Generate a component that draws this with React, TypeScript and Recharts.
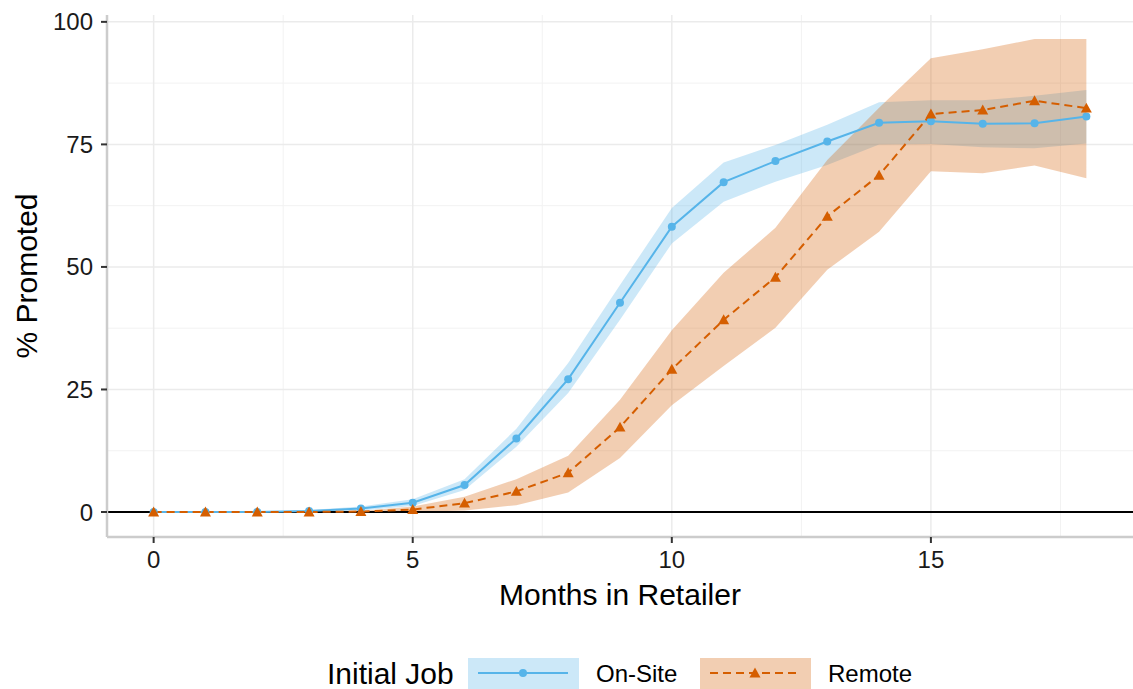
import {
  ComposedChart,
  Area,
  Line,
  XAxis,
  YAxis,
  CartesianGrid,
  ReferenceLine,
} from "recharts";

const months = [0, 1, 2, 3, 4, 5, 6, 7, 8, 9, 10, 11, 12, 13, 14, 15, 16, 17, 18];

const onSite = [0, 0, 0, 0.2, 0.7, 1.9, 5.5, 15.0, 27.1, 42.7, 58.2, 67.3, 71.6, 75.6, 79.4, 79.7, 79.2, 79.3, 80.7];
const onSiteLo = [0, 0, 0, 0, 0.3, 1.2, 4.5, 13.3, 24.3, 39.2, 54.8, 63.3, 67.4, 70.8, 75.0, 75.1, 74.4, 74.2, 75.2];
const onSiteHi = [0, 0, 0, 0.4, 1.1, 2.6, 6.7, 17.0, 30.4, 46.3, 62.0, 71.3, 74.9, 79.0, 83.6, 84.0, 84.0, 84.9, 86.1];

const remote = [0, 0, 0, 0, 0.1, 0.5, 1.8, 4.2, 8.0, 17.3, 29.1, 39.2, 47.9, 60.3, 68.7, 81.2, 82.0, 83.9, 82.4];
const remoteLo = [0, 0, 0, 0, 0, 0, 0.3, 1.4, 4.0, 11.0, 21.8, 29.8, 37.6, 49.4, 57.2, 69.5, 69.1, 70.7, 68.1];
const remoteHi = [0, 0, 0, 0, 0.2, 1.1, 3.1, 6.7, 11.5, 22.9, 37.1, 48.8, 58.0, 71.8, 82.5, 92.6, 94.4, 96.5, 96.5];

const xTicks = [0, 5, 10, 15];
const yTicks = [0, 25, 50, 75, 100];
const xMinor = [2.5, 7.5, 12.5, 17.5];
const yMinor = [12.5, 37.5, 62.5, 87.5];

const BLUE = "#56B4E9";
const ORANGE = "#D55E00";
const FONT = "'Liberation Sans', Arial, Helvetica, sans-serif";

const data = months.map((m, i) => ({
  month: m,
  onSite: onSite[i],
  onSiteBand: [onSiteLo[i], onSiteHi[i]],
  remote: remote[i],
  remoteBand: [remoteLo[i], remoteHi[i]],
}));

function Triangle(props: any) {
  const { cx, cy, index } = props;
  if (cx == null || cy == null) return <g key={`t-${index}`} />;
  const s = 5.5;
  return (
    <polygon
      key={`t-${index}`}
      points={`${cx},${cy - s} ${cx - s},${cy + s * 0.8} ${cx + s},${cy + s * 0.8}`}
      fill={ORANGE}
    />
  );
}

function LegendBar() {
  return (
    <svg width={1133} height={689} style={{ position: "absolute", left: 0, top: 0, pointerEvents: "none" }}>
      <g fontFamily={FONT}>
        <text x={327} y={684} fontSize={30} fill="#000">Initial Job</text>
        <rect x={468} y={658} width={111} height={31} fill={BLUE} fillOpacity={0.3} />
        <line x1={478} x2={568} y1={673} y2={673} stroke={BLUE} strokeWidth={2} />
        <circle cx={523} cy={673} r={4} fill={BLUE} />
        <text x={596} y={682} fontSize={24} fill="#000">On-Site</text>
        <rect x={700} y={658} width={111} height={31} fill={ORANGE} fillOpacity={0.3} />
        <line x1={710} x2={800} y1={673} y2={673} stroke={ORANGE} strokeWidth={2} strokeDasharray="8 5" />
        <polygon points="755,667.5 749.5,677.4 760.5,677.4" fill={ORANGE} />
        <text x={828} y={682} fontSize={24} fill="#000">Remote</text>
      </g>
    </svg>
  );
}

export default function App() {
  return (
    <div style={{ position: "fixed", left: 0, top: 0, width: 1133, height: 689, background: "#fff" }}>
      <ComposedChart
        width={1133}
        height={689}
        data={data}
        margin={{ top: 15, right: 0, left: 5, bottom: 82 }}
      >
        <CartesianGrid
          horizontalValues={yMinor}
          verticalValues={xMinor}
          stroke="#f2f2f2"
          strokeWidth={1}
        />
        <CartesianGrid
          horizontalValues={yTicks}
          verticalValues={xTicks}
          stroke="#ebebeb"
          strokeWidth={1.5}
        />
        <XAxis
          dataKey="month"
          type="number"
          domain={[-0.9, 18.9]}
          ticks={xTicks}
          allowDataOverflow
          height={70}
          tickSize={6}
          tickMargin={8}
          axisLine={{ stroke: "#cccccc", strokeWidth: 2.5 }}
          tickLine={{ stroke: "#333333", strokeWidth: 2 }}
          tick={{ fill: "#1a1a1a", fontSize: 24, fontFamily: FONT }}
          label={{
            value: "Months in Retailer",
            position: "insideBottom",
            offset: 2,
            fill: "#000",
            fontSize: 30,
            fontFamily: FONT,
          }}
        />
        <YAxis
          type="number"
          domain={[-5.1, 101.4]}
          ticks={yTicks}
          allowDataOverflow
          width={102}
          tickSize={6}
          tickMargin={8}
          axisLine={{ stroke: "#cccccc", strokeWidth: 2.5 }}
          tickLine={{ stroke: "#333333", strokeWidth: 2 }}
          tick={{ fill: "#1a1a1a", fontSize: 24, fontFamily: FONT }}
          label={{
            value: "% Promoted",
            position: "center",
            angle: -90,
            dx: -30,
            fill: "#000",
            fontSize: 30,
            fontFamily: FONT,
          }}
        />
        <ReferenceLine y={0} stroke="#000" strokeWidth={2} />
        <Area
          dataKey="onSiteBand"
          type="linear"
          stroke="none"
          fill={BLUE}
          fillOpacity={0.3}
          isAnimationActive={false}
        />
        <Area
          dataKey="remoteBand"
          type="linear"
          stroke="none"
          fill={ORANGE}
          fillOpacity={0.3}
          isAnimationActive={false}
        />
        <Line
          dataKey="onSite"
          type="linear"
          stroke={BLUE}
          strokeWidth={2}
          dot={{ r: 4, fill: BLUE, stroke: "none" }}
          activeDot={false}
          isAnimationActive={false}
        />
        <Line
          dataKey="remote"
          type="linear"
          stroke={ORANGE}
          strokeWidth={2}
          strokeDasharray="8 5"
          dot={Triangle}
          activeDot={false}
          isAnimationActive={false}
        />
      </ComposedChart>
      <LegendBar />
    </div>
  );
}
